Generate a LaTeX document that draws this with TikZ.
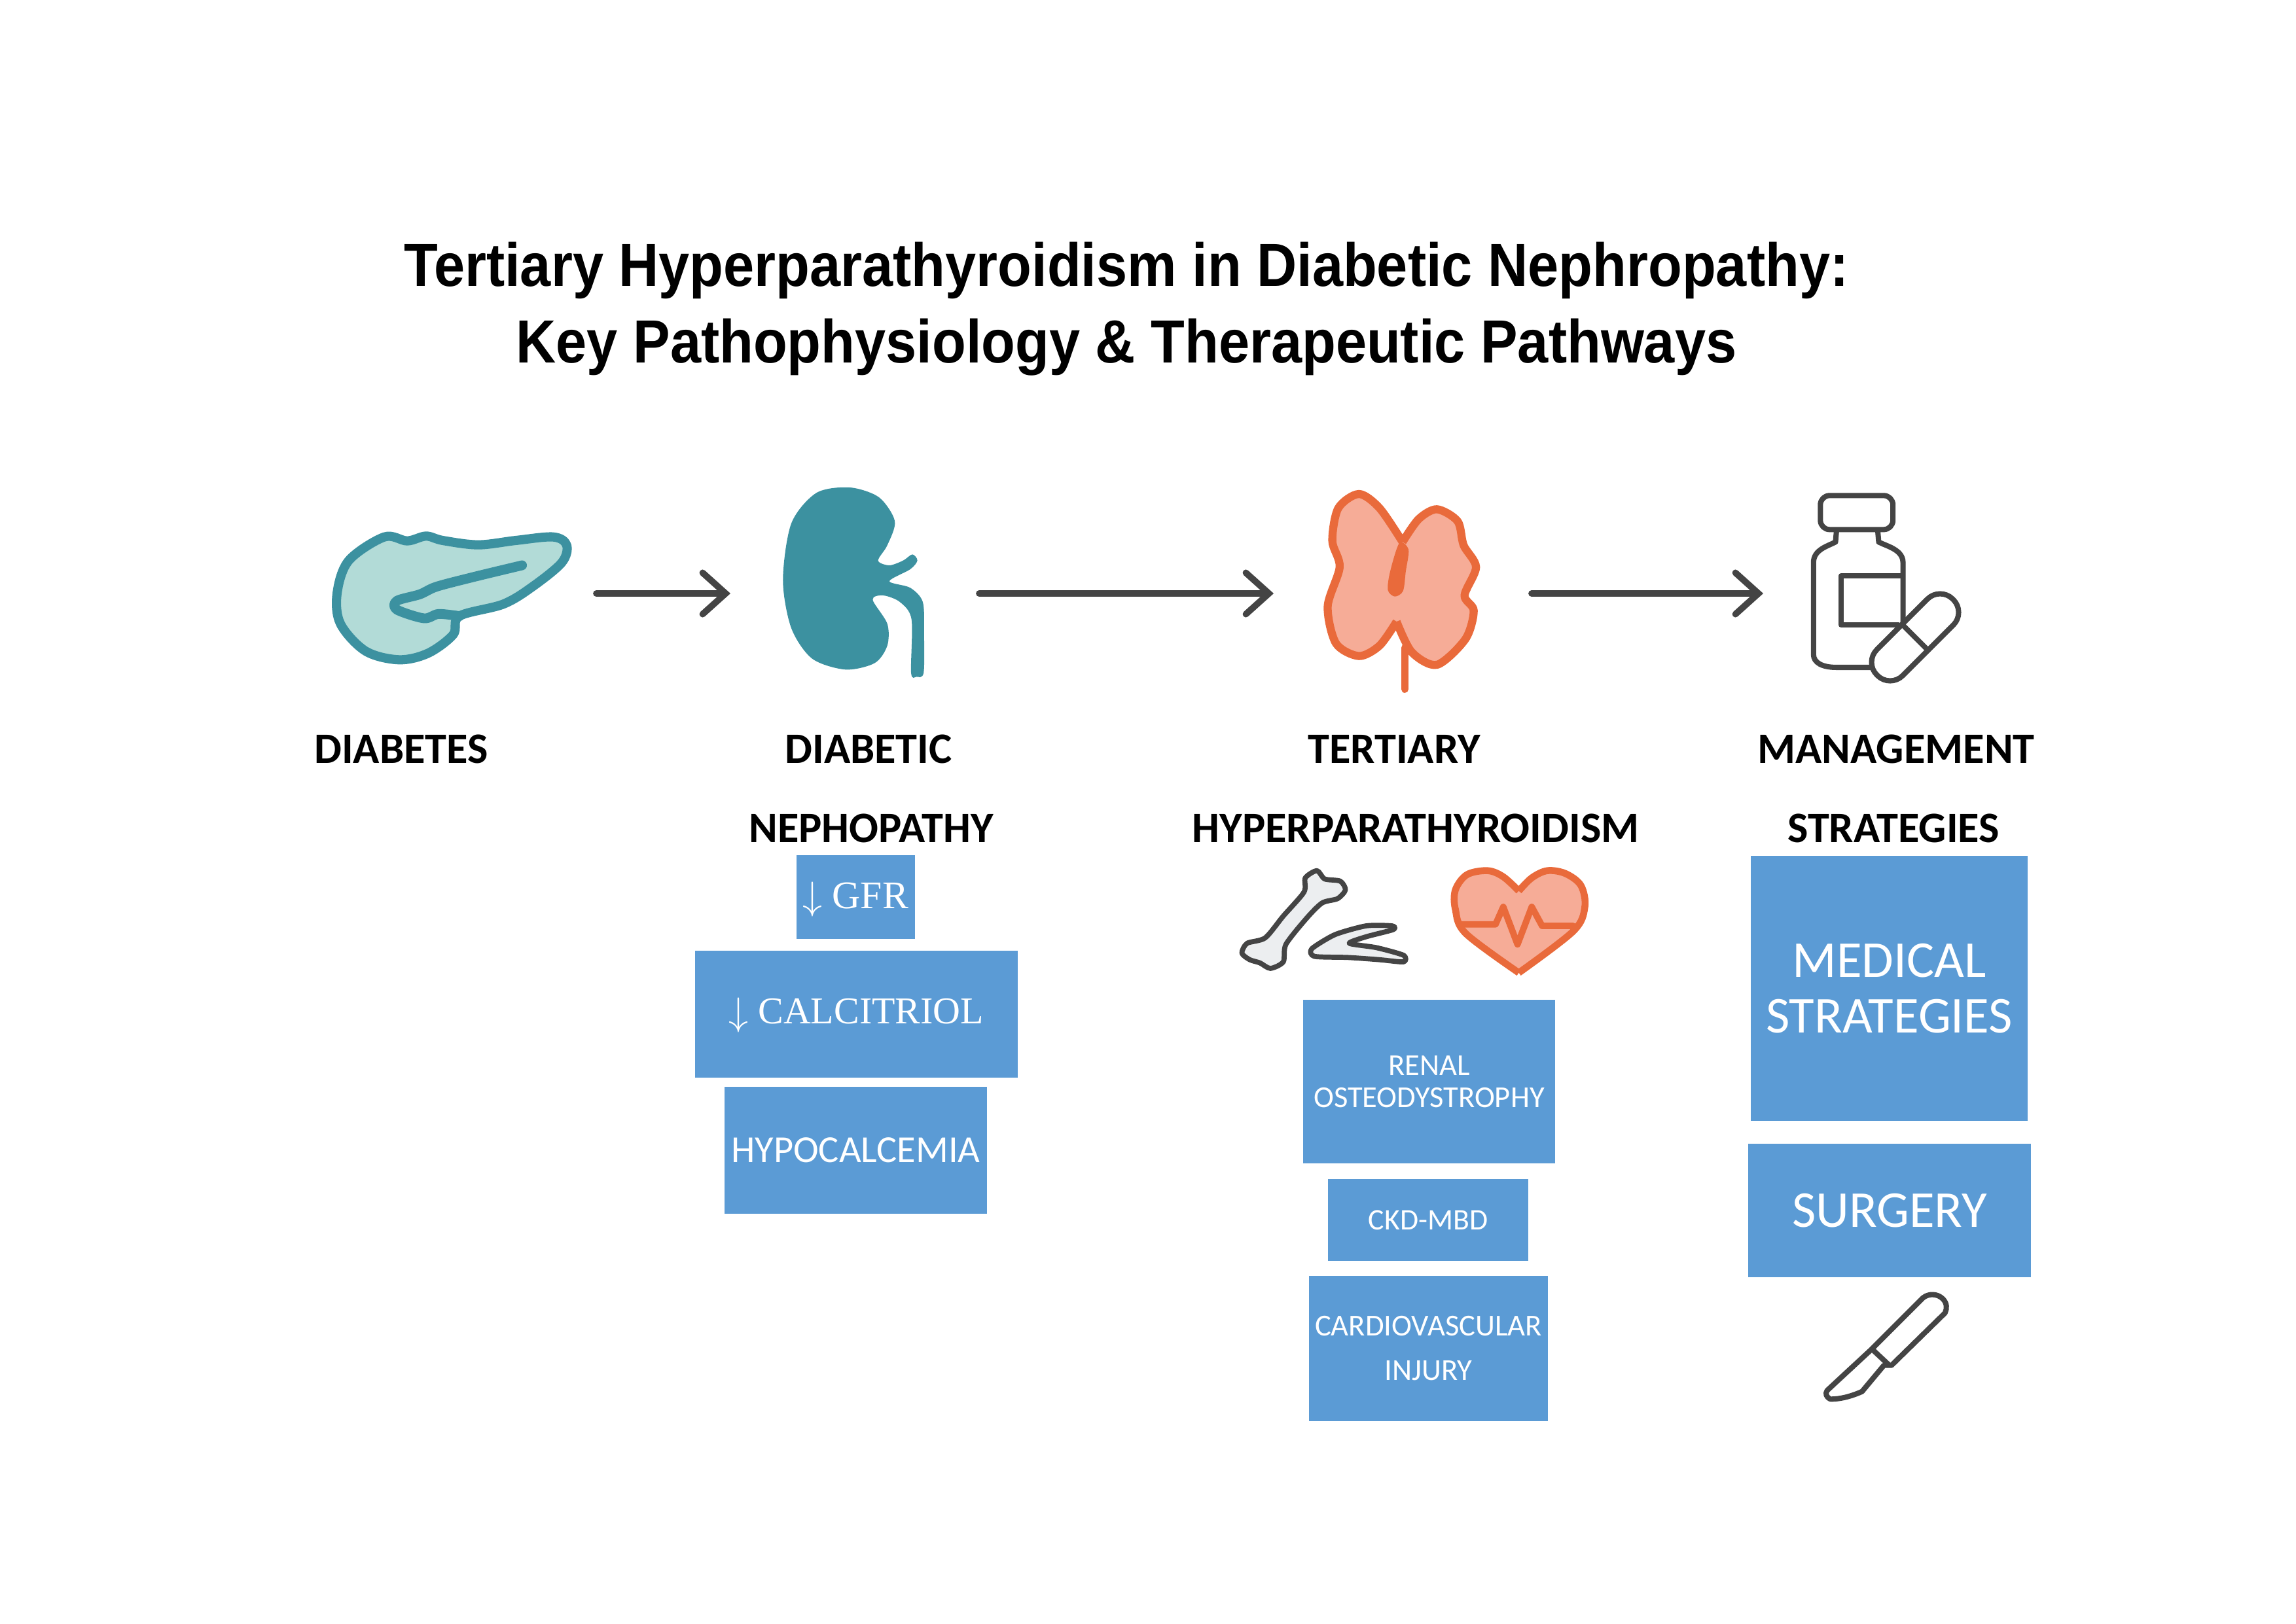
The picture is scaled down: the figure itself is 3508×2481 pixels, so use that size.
\documentclass[tikz,border=0pt]{standalone}
\usepackage{fontspec}
\setmainfont{Carlito}
\newfontfamily\titlefont[FakeStretch=0.91]{Liberation Sans}
\newfontfamily\seriffont{Liberation Serif}
\usetikzlibrary{arrows.meta}
\definecolor{boxblue}{HTML}{5B9BD5}
\definecolor{teal}{HTML}{3C91A0}
\definecolor{palet}{HTML}{B2DBD7}
\definecolor{orangeline}{HTML}{E96A3B}
\definecolor{orangefill}{HTML}{F6AC97}
\definecolor{darkline}{HTML}{444444}
\definecolor{bonefill}{HTML}{ECEEF0}
\newcommand{\bigdown}{\raisebox{-1pt}{\scalebox{1.37}{$\downarrow$}}}
\tikzset{
  x=0.02cm,y=-0.02cm,
  bluebox/.style 2 args={fill=boxblue,text=white,inner sep=0pt,align=center,minimum width=#1*0.02cm,minimum height=#2*0.02cm},
  headlabel/.style={text=black,font=\bfseries\fontsize{37.8}{44}\selectfont,inner sep=0pt,anchor=center},
  flowarrow/.style={draw=darkline,line width=5.6pt,line cap=round,-{Straight Barb[length=20pt,width=36pt,line cap=round]}},
  orangeicon/.style={draw=orangeline,fill=orangefill,line width=7pt,line join=round},
  darkicon/.style={draw=darkline,line width=4.6pt,line join=round,line cap=round},
  zoomA/.style={shift={(450,700)},xscale=0.6378,yscale=0.3333},
  zoomB/.style={shift={(1950,700)},xscale=0.7015,yscale=0.3333},
  zoomC/.style={shift={(1850,1300)},xscale=0.3954,yscale=0.3333},
  zoomD/.style={shift={(2740,1950)},xscale=0.3333,yscale=0.3333},
}
\begin{document}
\begin{tikzpicture}
\useasboundingbox (0,0) rectangle (3508,2481);

% title
\node[inner sep=0pt,align=center,text=black,font=\titlefont\bfseries\fontsize{53}{66.6}\selectfont] (title) at (1721,472)
  {Tertiary Hyperparathyroidism in Diabetic Nephropathy:\\Key Pathophysiology \& Therapeutic Pathways};

% pancreas
\begin{scope}[zoomA]
\draw[draw=teal,fill=palet,line width=8pt,line join=round] plot[smooth cycle,tension=.55] coordinates {
 (102,620)(130,470)(215,362)(270,380)(315,358)(355,378)(440,398)(530,378)(620,362)(652,400)(640,480)(570,590)(500,670)(395,725)(380,810)(320,895)(250,925)(170,885)(110,760)};
\draw[draw=teal,line width=8.5pt,line cap=round,line join=round] plot[smooth,tension=.5] coordinates {
 (545,492)(430,545)(340,590)(300,625)(245,655)(245,695)(310,735)(345,715)(395,725)};
% kidney
\fill[teal] plot[smooth cycle,tension=.5] coordinates {
 (1170,560)(1190,300)(1250,160)(1330,135)(1400,180)(1438,290)(1420,400)(1398,470)(1425,492)(1458,470)(1480,442)(1492,470)(1475,510)(1425,565)(1475,595)(1505,660)(1508,800)(1507,985)(1490,1003)(1477,985)(1478,740)(1450,660)(1410,630)(1385,650)(1420,760)(1420,860)(1390,940)(1320,970)(1240,920)(1190,780)};
\end{scope}

% thyroid
\begin{scope}[zoomB]
\draw[draw=orangeline,line width=6.4pt,line cap=round] (280,870) -- (280,1060);
\draw[orangeicon] plot[smooth,tension=.5] coordinates {
 (275,385)(225,230)(180,165)(135,230)(122,380)(138,500)(112,680)(130,850)(180,908)(225,860)(262,750)}
 plot[smooth,tension=.5] coordinates {(262,750)(295,890)(350,948)(412,830)(430,700)(410,630)(435,500)(408,400)(395,290)(350,235)(310,280)(275,385)};
\fill[orangeline] plot[smooth cycle,tension=.5] coordinates {(268,390)(288,420)(282,520)(276,610)(258,635)(243,605)(248,520)};
\end{scope}

% bottle
\begin{scope}[zoomB]
\draw[darkicon,rounded corners=8pt] (1185,172) rectangle (1343,328);
\draw[darkicon] (1220,335) -- (1218,385) .. controls (1200,405) and (1170,420) .. (1170,480) -- (1170,900) .. controls (1170,940) and (1190,960) .. (1220,960) -- (1305,960);
\draw[darkicon] (1310,335) -- (1312,385) .. controls (1330,405) and (1365,420) .. (1365,480) -- (1365,760);
\draw[darkicon] (1360,540) -- (1230,540) -- (1230,765) -- (1355,765);
\end{scope}
\begin{scope}[shift={(2926,974)},rotate=45]
\draw[darkicon,fill=white,rounded corners=15.5pt] (-82,-28) rectangle (82,28);
\draw[darkicon] (0,-28) -- (0,28);
\end{scope}

% bone and fragment
\begin{scope}[zoomC]
\draw[draw=darkline,fill=bonefill,line width=4.4pt,line join=round] plot[smooth cycle,tension=.45] coordinates {
 (365,125)(410,92)(440,130)(500,140)(520,180)(490,220)(430,240)(370,310)(290,430)(280,510)(230,540)(190,515)(150,500)(120,470)(140,425)(210,400)(280,300)(360,190)};
\draw[draw=darkline,fill=bonefill,line width=4.4pt,line join=round] plot[smooth cycle,tension=.4] coordinates {
 (700,345)(600,345)(480,385)(390,450)(400,485)(530,490)(650,500)(745,510)(745,480)(640,445)(535,425)(600,395)(705,362)};
% heart
\draw[orangeicon,line width=6pt] plot[smooth,tension=.55] coordinates {(1190,185)(1130,120)(1070,92)(990,110)(945,180)(945,270)(985,380)(1190,560)}
  plot[smooth,tension=.55] coordinates {(1190,560)(1400,370)(1445,260)(1430,160)(1370,105)(1300,92)(1240,125)(1190,185)};
\draw[draw=orangeline,line width=5.6pt,line join=round,line cap=round] (965,338) -- (1100,338) -- (1130,258) -- (1185,430) -- (1240,258) -- (1280,345) -- (1400,345);
\end{scope}

% scalpel
\begin{scope}[zoomD]
\draw[darkicon] (360,335) -- (595,100) .. controls (620,80) and (660,80) .. (685,105) .. controls (705,125) and (705,150) .. (695,170) -- (450,410) -- (415,410) -- (315,530) .. controls (270,550) and (220,565) .. (170,565) .. controls (150,555) and (145,540) .. (155,525) -- (360,335) -- (440,410);
\end{scope}

% arrow end points
\coordinate (a1s) at (911,907);
\coordinate (a1e) at (1116,907);
\coordinate (a2s) at (1496,907);
\coordinate (a2e) at (1946,907);
\coordinate (a3s) at (2340,907);
\coordinate (a3e) at (2694,907);
\draw[flowarrow] (a1s) -- (a1e);
\draw[flowarrow] (a2s) -- (a2e);
\draw[flowarrow] (a3s) -- (a3e);

% labels
\node[headlabel] (l1) at (613,1145) {DIABETES};
\node[headlabel] (l2a) at (1327,1145) {DIABETIC};
\node[headlabel] (l2b) at (1331,1266) {NEPHOPATHY};
\node[headlabel] (l3a) at (2130,1145) {TERTIARY};
\node[headlabel] (l3b) at (2163,1266) {HYPERPARATHYROIDISM};
\node[headlabel] (l4a) at (2897,1145) {MANAGEMENT};
\node[headlabel] (l4b) at (2893,1266) {STRATEGIES};

% boxes
\node[bluebox={181}{128},text height=24pt,text depth=4pt,font=\seriffont\fontsize{34}{40}\selectfont] (gfr) at (1307.5,1370.5) {\bigdown\ GFR};
\node[bluebox={493}{194},text height=22pt,text depth=4.4pt,font=\seriffont\fontsize{33}{40}\selectfont] (calc) at (1308.5,1549.5) {\bigdown\ CALCITRIOL};
\node[bluebox={401}{194},font=\fontsize{33.2}{36}\selectfont] (hypo) at (1307.5,1757.5) {HYPOCALCEMIA};
\node[bluebox={385}{250},font=\fontsize{26.5}{28}\selectfont] (renal) at (2183.5,1653) {RENAL\\OSTEODYSTROPHY};
\node[bluebox={306}{125},font=\fontsize{26}{28}\selectfont] (ckd) at (2182,1864.5) {CKD-MBD};
\node[bluebox={365}{222},font=\fontsize{26.5}{39}\selectfont] (cardio) at (2182.5,2060.5) {CARDIOVASCULAR\\INJURY};
\node[bluebox={423}{405},font=\fontsize{45}{48.8}\selectfont] (med) at (2886.5,1510.5) {MEDICAL\\STRATEGIES};
\node[bluebox={432}{204},font=\fontsize{45}{48}\selectfont] (surg) at (2887,1850) {SURGERY};
\end{tikzpicture}
\end{document}
